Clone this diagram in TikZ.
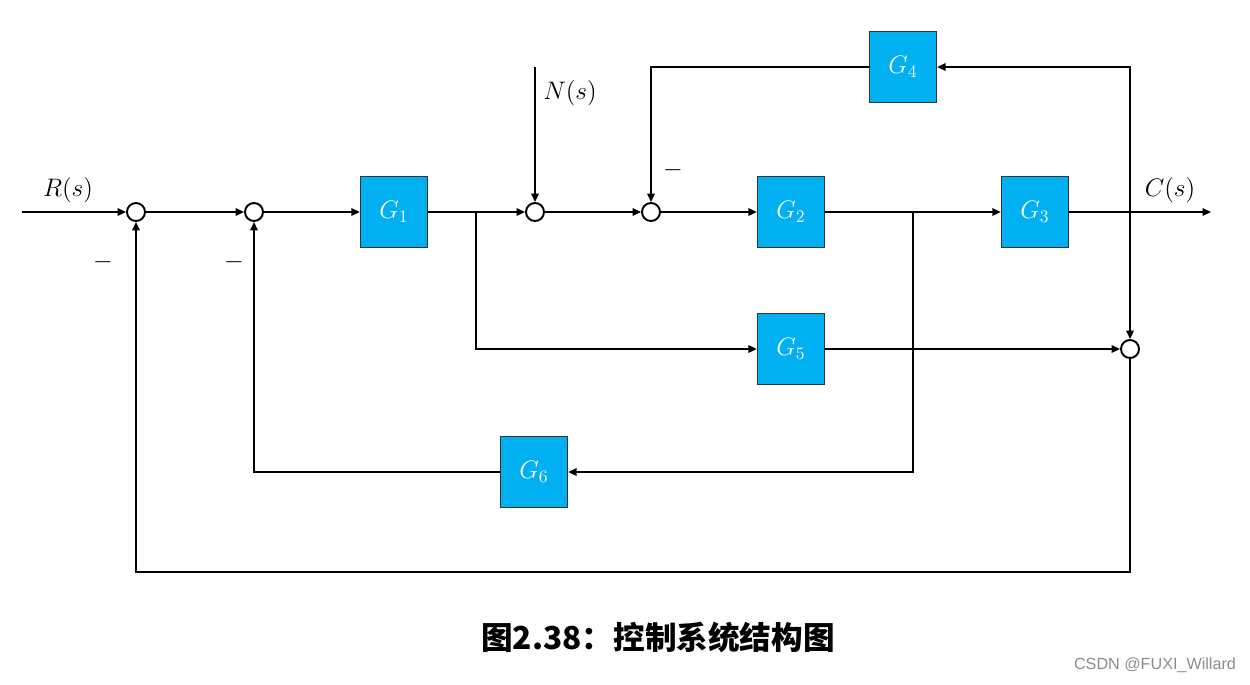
\documentclass[tikz,border=0pt]{standalone}
\usepackage{fontspec}
\newfontfamily\cjk{Noto Sans CJK SC}
\newfontfamily\wmfont{Liberation Sans}
\usetikzlibrary{arrows.meta,calc}
\definecolor{boxblue}{HTML}{00B0F0}
\begin{document}
\begin{tikzpicture}[x=0.02cm,y=-0.02cm,
  line width=1.1pt,
  blk/.style={draw=black!80,line width=0.8pt,fill=boxblue,text=white,minimum width=1.34cm,minimum height=1.42cm,inner sep=0pt,font=\fontsize{14}{16}\selectfont},
  sumc/.style={draw,circle,minimum size=0.36cm,inner sep=0pt,line width=1.1pt,fill=white},
  arr/.style={-{Triangle[length=1.7mm,width=1.5mm]}},
  lbl/.style={font=\fontsize{14}{16}\selectfont,inner sep=0pt}]
\useasboundingbox (0,0) rectangle (1250,684);
% blocks
\node[blk] (G1) at (394,212) {$G_1$};
\node[blk] (G2) at (791,212) {$G_2$};
\node[blk] (G3) at (1035,212) {$G_3$};
\node[blk] (G4) at (903,67) {$G_4$};
\node[blk] (G5) at (791,349) {$G_5$};
\node[blk] (G6) at (534,472) {$G_6$};
% summing junctions
\node[sumc] (S1) at (136,212) {};
\node[sumc] (S2) at (254,212) {};
\node[sumc] (S3) at (535,212) {};
\node[sumc] (S4) at (651,212) {};
\node[sumc] (S5) at (1130,349) {};
% free ends and branch points
\coordinate (in) at (22,212);
\coordinate (out) at (1211,212);
\coordinate (nin) at (535,67);
\coordinate (b1) at (476,212);
\coordinate (b2) at (913,212);
\coordinate (b3) at (1130,212);
\coordinate (bot) at (1130,572);
% connectors
\draw[arr] (in) -- (S1.west);
\draw[arr] (S1.east) -- (S2.west);
\draw[arr] (S2.east) -- (G1.west);
\draw[arr] (G1.east) -- (S3.west);
\draw[arr] (b1) |- (G5.west);
\draw[arr] (nin) -- (S3.north);
\draw[arr] (S3.east) -- (S4.west);
\draw[arr] (S4.east) -- (G2.west);
\draw[arr] (G2.east) -- (G3.west);
\draw[arr] (b2) |- (G6.east);
\draw[arr] (G6.west) -| (S2.south);
\draw[arr] (G3.east) -- (out);
\draw[arr] (b3) |- (G4.east);
\draw[arr] (b3) -- (S5.north);
\draw[arr] (G4.west) -| (S4.north);
\draw[arr] (G5.east) -- (S5.west);
\draw[arr] (S5.south) -- (bot) -| (S1.south);
% labels
\node[lbl] (lR) at (68,190) {$R(s)$};
\node[lbl] (lN) at (570,93) {$N(s)$};
\node[lbl] (lC) at (1170,190) {$C(s)$};
\node[lbl] (m1) at (103,262) {$-$};
\node[lbl] (m2) at (234,262) {$-$};
\node[lbl] (m3) at (673,170) {$-$};
% caption and watermark
\node[inner sep=0pt,font=\cjk\bfseries\fontsize{18}{20}\selectfont] (cap) at (658,637) {图2.38：控制系统结构图};
\node[inner sep=0pt,text=black!45,font=\wmfont\fontsize{9.2}{11}\selectfont] (wm) at (1155,665) {CSDN @FUXI\_Willard};
\end{tikzpicture}
\end{document}
